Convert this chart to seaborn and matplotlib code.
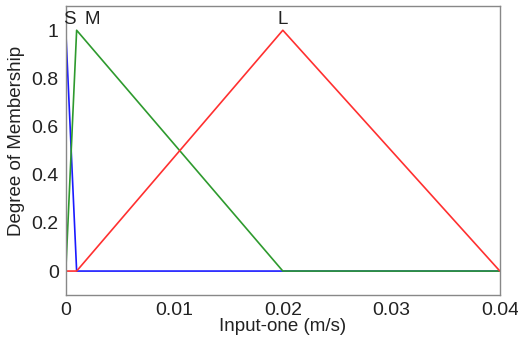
import matplotlib
matplotlib.use("Agg")
import matplotlib.pyplot as plt
import seaborn as sns
import pandas as pd

sns.set_style("white")
plt.rcParams['font.family'] = ['Liberation Sans', 'DejaVu Sans']

# membership function breakpoints
s_x = [0.0, 0.001, 0.04]
s_y = [1.0, 0.0, 0.0]
m_x = [0.0, 0.001, 0.02, 0.04]
m_y = [0.0, 1.0, 0.0, 0.0]
l_x = [0.0, 0.001, 0.02, 0.04]
l_y = [0.0, 0.0, 1.0, 0.0]
labels = ["S", "M", "L"]
label_x = [0.00035, 0.0024, 0.02]
label_y = 1.045
xticks = [0, 0.01, 0.02, 0.03, 0.04]
xtick_labels = ["0", "0.01", "0.02", "0.03", "0.04"]
yticks = [0, 0.2, 0.4, 0.6, 0.8, 1]
ytick_labels = ["0", "0.2", "0.4", "0.6", "0.8", "1"]

fig = plt.figure(figsize=(5.18, 3.42), dpi=100)
ax = fig.add_axes([0.127, 0.137, 0.838, 0.845])

colors = ["#1a1aff", "#2e9a2e", "#ff3030"]
for xs, ys, c in [(s_x, s_y, colors[0]), (m_x, m_y, colors[1]), (l_x, l_y, colors[2])]:
    df = pd.DataFrame({"x": xs, "y": ys})
    sns.lineplot(data=df, x="x", y="y", sort=False, color=c, lw=1.2, ax=ax, estimator=None)

for t, lx in zip(labels, label_x):
    ax.text(lx, label_y, t, ha="center", va="center", fontsize=13.5, color="#222222")

ax.set_xlim(0, 0.04)
ax.set_ylim(-0.1, 1.1)
ax.set_xticks(xticks)
ax.set_xticklabels(xtick_labels)
ax.set_yticks(yticks)
ax.set_yticklabels(ytick_labels)
ax.tick_params(direction="in", length=3, color="#888888", labelsize=14, labelcolor="#222222", pad=5)
ax.set_xlabel("Input-one (m/s)", fontsize=13.5, color="#222222", labelpad=-1)
ax.set_ylabel("Degree of Membership", fontsize=13.5, color="#222222")
ax.yaxis.set_label_coords(-0.094, 0.535)
for sp in ax.spines.values():
    sp.set_color("#888888")
    sp.set_linewidth(1.0)

fig.savefig("out.png", dpi=100)
